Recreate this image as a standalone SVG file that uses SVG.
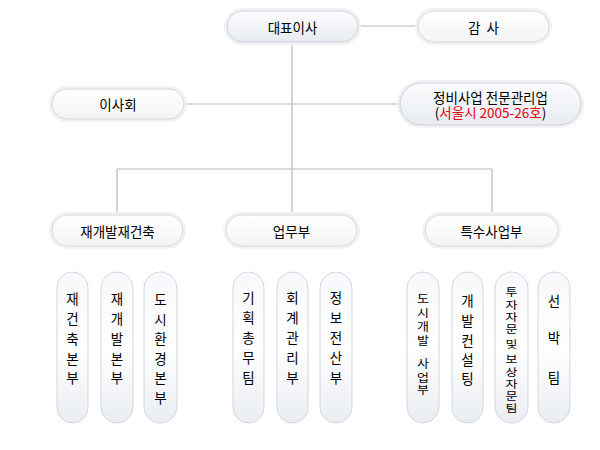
<svg xmlns="http://www.w3.org/2000/svg" width="600" height="450" viewBox="0 0 600 450">
<style>
  text { font-family: "Noto Sans CJK KR", "Noto Sans", sans-serif; font-size: 13.5px; fill: #000000; text-anchor: middle; dominant-baseline: central; }
  .halo { fill: none; stroke: #f1f2f4; stroke-width: 6; }
  .pillB { fill: url(#gB); stroke: #cdd1d7; stroke-width: 1; }
  .pillW { fill: url(#gW); stroke: #d6d8db; stroke-width: 1; }
  .pillV { fill: url(#gV); stroke: #d2d6dc; stroke-width: 1; }
  .conn line { stroke: #b9b9b9; stroke-width: 1.2; }
  .red { fill: #e8000b; }
  .tight { font-size: 13px; }
</style>
<defs>
  <linearGradient id="gB" x1="0" y1="0" x2="0" y2="1">
    <stop offset="0" stop-color="#fbfcfd"/>
    <stop offset="1" stop-color="#e7ebf1"/>
  </linearGradient>
  <linearGradient id="gW" x1="0" y1="0" x2="0" y2="1">
    <stop offset="0" stop-color="#ffffff"/>
    <stop offset="1" stop-color="#f4f4f4"/>
  </linearGradient>
  <linearGradient id="gV" x1="0" y1="0" x2="0" y2="1">
    <stop offset="0" stop-color="#f7f8fa"/>
    <stop offset="0.5" stop-color="#ffffff"/>
    <stop offset="1" stop-color="#e9edf2"/>
  </linearGradient>
</defs>
<rect width="600" height="450" fill="#ffffff"/>

<g class="conn">
  <line x1="358" y1="26" x2="418" y2="26"/>
  <line x1="292" y1="42" x2="292" y2="215"/>
  <line x1="184" y1="104" x2="400" y2="104"/>
  <line x1="117" y1="169" x2="492" y2="169"/>
  <line x1="117" y1="169" x2="117" y2="215"/>
  <line x1="492" y1="169" x2="492" y2="215"/>
</g>

<g id="ceo">
  <rect class="halo" x="227" y="11" width="131" height="31" rx="15.5"/>
  <rect class="pillB" x="227" y="11" width="131" height="31" rx="15.5"/>
  <text x="292.5" y="26.5">대표이사</text>
</g>
<g id="auditor">
  <rect class="halo" x="418" y="11" width="131" height="31" rx="15.5"/>
  <rect class="pillW" x="418" y="11" width="131" height="31" rx="15.5"/>
  <text x="483.5" y="26.5" xml:space="preserve">감  사</text>
</g>
<g id="board">
  <rect class="halo" x="52" y="89" width="132" height="30" rx="15"/>
  <rect class="pillW" x="52" y="89" width="132" height="30" rx="15"/>
  <text x="118" y="104">이사회</text>
</g>
<g id="license">
  <rect class="halo" x="400" y="83" width="181" height="42" rx="21"/>
  <rect class="pillB" x="400" y="83" width="181" height="42" rx="21"/>
  <text><tspan x="490.5" y="97">정비사업 전문관리업</tspan><tspan x="490.5" y="112">(<tspan class="red">서울시 2005-26호</tspan>)</tspan></text>
</g>

<g id="redev">
  <rect class="halo" x="52" y="215" width="131" height="31" rx="15.5"/>
  <rect class="pillW" x="52" y="215" width="131" height="31" rx="15.5"/>
  <text x="117.5" y="230.5">재개발재건축</text>
</g>
<g id="ops">
  <rect class="halo" x="226" y="215" width="131" height="31" rx="15.5"/>
  <rect class="pillW" x="226" y="215" width="131" height="31" rx="15.5"/>
  <text x="291.5" y="230.5">업무부</text>
</g>
<g id="special">
  <rect class="halo" x="425" y="215" width="133" height="31" rx="15.5"/>
  <rect class="pillW" x="425" y="215" width="133" height="31" rx="15.5"/>
  <text x="491.5" y="230.5">특수사업부</text>
</g>

<g id="v1">
  <rect class="pillV" x="57" y="272" width="31" height="151" rx="15.5"/>
  <text><tspan x="72.5" y="298">재</tspan><tspan x="72.5" y="318">건</tspan><tspan x="72.5" y="338">축</tspan><tspan x="72.5" y="358">본</tspan><tspan x="72.5" y="377">부</tspan></text>
</g>
<g id="v2">
  <rect class="pillV" x="101" y="272" width="32" height="151" rx="16"/>
  <text><tspan x="117" y="298">재</tspan><tspan x="117" y="318">개</tspan><tspan x="117" y="338">발</tspan><tspan x="117" y="358">본</tspan><tspan x="117" y="377">부</tspan></text>
</g>
<g id="v3">
  <rect class="pillV" x="144" y="272" width="33" height="151" rx="16.5"/>
  <text><tspan x="160.5" y="299">도</tspan><tspan x="160.5" y="318.5">시</tspan><tspan x="160.5" y="338">환</tspan><tspan x="160.5" y="358">경</tspan><tspan x="160.5" y="377">본</tspan><tspan x="160.5" y="397">부</tspan></text>
</g>
<g id="v4">
  <rect class="pillV" x="233" y="272" width="31" height="151" rx="15.5"/>
  <text><tspan x="248.5" y="297">기</tspan><tspan x="248.5" y="317">획</tspan><tspan x="248.5" y="337">총</tspan><tspan x="248.5" y="357">무</tspan><tspan x="248.5" y="377">팀</tspan></text>
</g>
<g id="v5">
  <rect class="pillV" x="277" y="272" width="31" height="151" rx="15.5"/>
  <text><tspan x="292.5" y="297">회</tspan><tspan x="292.5" y="317">계</tspan><tspan x="292.5" y="337">관</tspan><tspan x="292.5" y="357">리</tspan><tspan x="292.5" y="377">부</tspan></text>
</g>
<g id="v6">
  <rect class="pillV" x="320" y="272" width="32" height="151" rx="16"/>
  <text><tspan x="336" y="297">정</tspan><tspan x="336" y="317">보</tspan><tspan x="336" y="337">전</tspan><tspan x="336" y="357">산</tspan><tspan x="336" y="377">부</tspan></text>
</g>
<g id="v7">
  <rect class="pillV" x="407" y="272" width="32" height="151" rx="16"/>
  <text class="tight" transform="scale(1,0.85)"><tspan x="423" y="350.6">도</tspan><tspan x="423" y="366.5">시</tspan><tspan x="423" y="382.4">개</tspan><tspan x="423" y="400">발</tspan><tspan x="423" y="425.9">사</tspan><tspan x="423" y="442.4">업</tspan><tspan x="423" y="457.6">부</tspan></text>
</g>
<g id="v8">
  <rect class="pillV" x="452" y="272" width="31" height="151" rx="15.5"/>
  <text><tspan x="467.5" y="300">개</tspan><tspan x="467.5" y="320">발</tspan><tspan x="467.5" y="340">컨</tspan><tspan x="467.5" y="359">설</tspan><tspan x="467.5" y="378">팅</tspan></text>
</g>
<g id="v9">
  <rect class="pillV" x="495" y="272" width="33" height="151" rx="16.5"/>
  <text class="tight" transform="scale(1,0.78)"><tspan x="511.5" y="373.1">투</tspan><tspan x="511.5" y="389.7">자</tspan><tspan x="511.5" y="405.1">자</tspan><tspan x="511.5" y="420.5">문</tspan><tspan x="511.5" y="439.7">및</tspan><tspan x="511.5" y="459">보</tspan><tspan x="511.5" y="475">상</tspan><tspan x="511.5" y="491">자</tspan><tspan x="511.5" y="506.4">문</tspan><tspan x="511.5" y="521.8">팀</tspan></text>
</g>
<g id="v10">
  <rect class="pillV" x="538" y="272" width="32" height="151" rx="16"/>
  <text><tspan x="554" y="300">선</tspan><tspan x="554" y="337">박</tspan><tspan x="554" y="377">팀</tspan></text>
</g>
</svg>
